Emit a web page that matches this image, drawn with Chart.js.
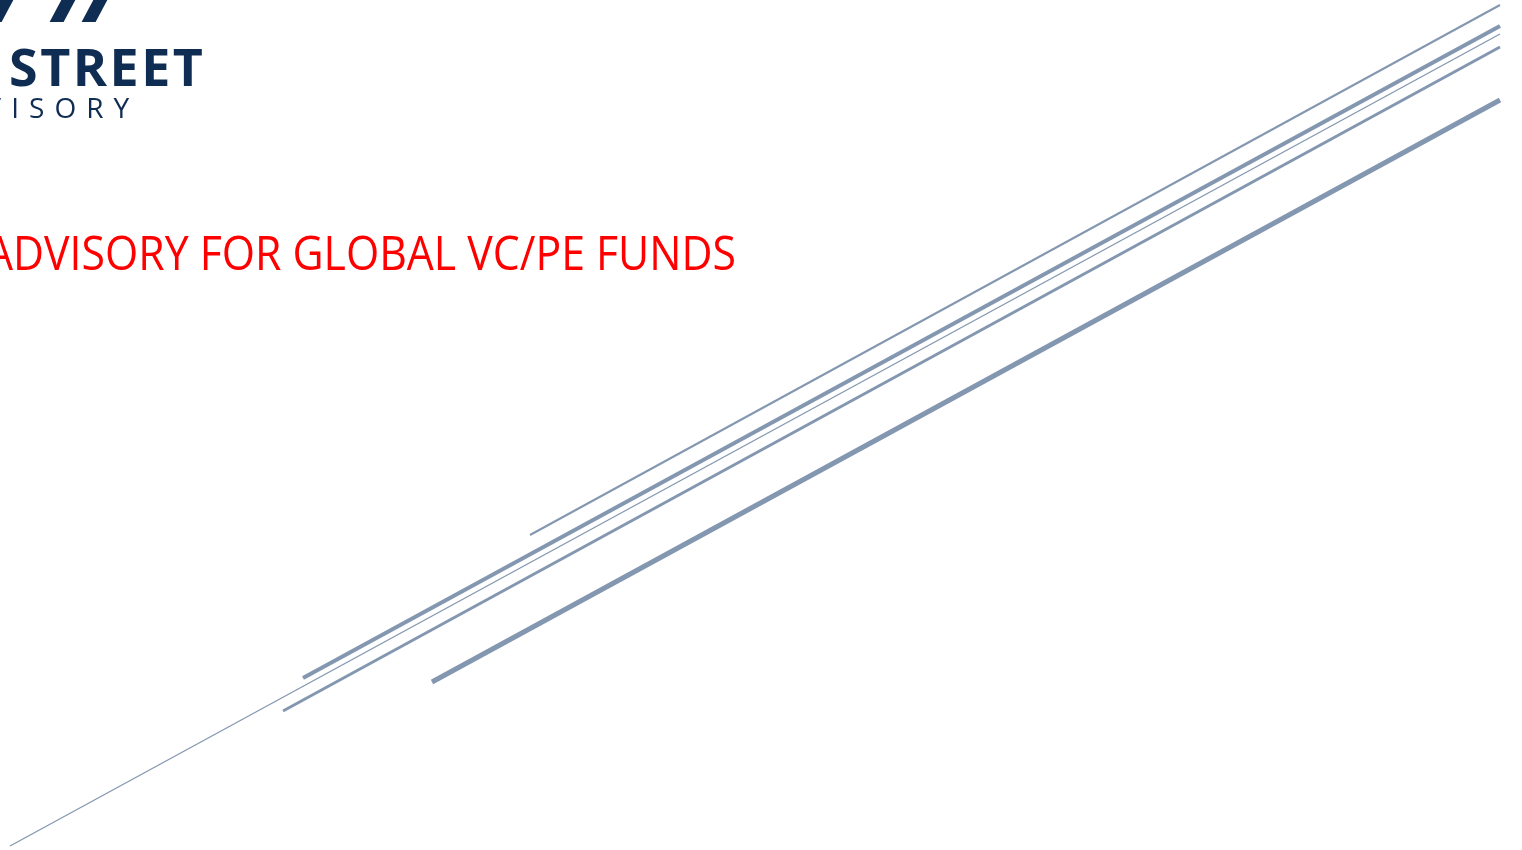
<!DOCTYPE html>
<html>
<head>
<meta charset="utf-8">
<script src="https://cdn.jsdelivr.net/npm/chart.js@4"></script>
<style>
  html, body { margin: 0; padding: 0; background: #fff; overflow: hidden; }
  #wrap { position: relative; width: 1522px; height: 850px; }
  #lines { position: absolute; left: 0; top: 0; }
  .slash { position: absolute; top: -2px; height: 24px; background: #0f2c52; transform: skewX(-28deg); }
  .logo1 { position: absolute; left: 9px; top: 30px; font: bold 52px "Open Sans", sans-serif; color: #0f2c52; letter-spacing: 2.5px; }
  .logo2 { position: absolute; left: -9px; top: 88px; font: 500 28px "Open Sans", sans-serif; color: #0f2c52; letter-spacing: 10px; }
  .title { position: absolute; left: -14px; top: 220px; font: 47px "Open Sans", sans-serif; color: #ff0000; white-space: nowrap; transform-origin: left top; transform: scaleX(0.91); }
</style>
</head>
<body>
<div id="wrap">
  <canvas id="lines" width="1522" height="850"></canvas>
  <div class="slash" style="left:-6px;width:14px"></div>
  <div class="slash" style="left:56px;width:14px"></div>
  <div class="slash" style="left:88px;width:14px"></div>
  <div class="logo1">STREET</div>
  <div class="logo2">/ISORY</div>
  <div class="title">ADVISORY FOR GLOBAL VC/PE FUNDS</div>
</div>
<script>
// decorative stripes, start and end points
const startX = [530, 303, 10, 283, 432];
const startY = [535, 678, 846, 711, 682];
const endX = [1500, 1500, 1500, 1500, 1500];
const endY = [5, 26, 34, 47, 100];
const widths = [2, 4, 1.3, 3, 5];

const datasets = startX.map((x, i) => ({
    data: [{x: x, y: startY[i]}, {x: endX[i], y: endY[i]}],
    showLine: true,
    borderColor: "#8497b0",
    borderWidth: widths[i],
    pointRadius: 0,
    borderCapStyle: "butt"
}));

new Chart(document.getElementById("lines"), {
    type: "scatter",
    data: {datasets: datasets},
    options: {
        responsive: false,
        animation: false,
        layout: {padding: 0},
        plugins: {legend: {display: false}, tooltip: {enabled: false}},
        scales: {
            x: {type: "linear", min: 0, max: 1522, display: false},
            y: {type: "linear", min: 0, max: 850, reverse: true, display: false}
        }
    }
});
</script>
</body>
</html>
